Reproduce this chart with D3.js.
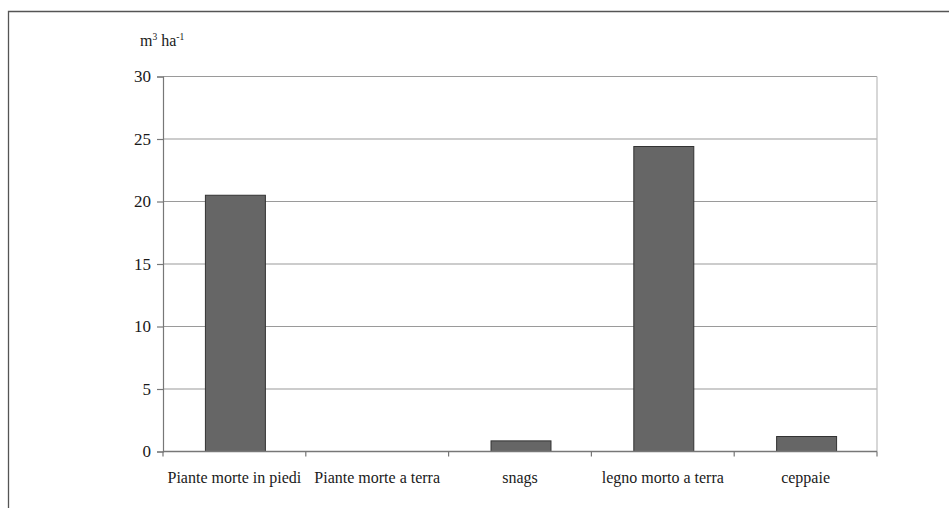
<!DOCTYPE html>
<html>
<head>
<meta charset="utf-8">
<script src="https://cdn.jsdelivr.net/npm/d3@7"></script>
<style>
  html, body { margin: 0; padding: 0; background: #fff; }
  svg { display: block; }
</style>
</head>
<body>
<script>
// Dead wood volume by component (m³ ha⁻¹)
const categories = ["Piante morte in piedi", "Piante morte a terra", "snags", "legno morto a terra", "ceppaie"];
const volumes = [20.5, 0, 0.85, 24.4, 1.2];
const yTicks = [0, 5, 10, 15, 20, 25, 30];

const W = 949, H = 508;
const margin = { left: 163, right: 72, top: 76.5, bottom: 56.5 };
const plotW = W - margin.left - margin.right;
const plotH = H - margin.top - margin.bottom;
const serif = '"Liberation Serif"';
const ink = "#1a1a1a";

const svg = d3.select("body").append("svg").attr("width", W).attr("height", H);

// outer frame, open at the right and bottom edges
svg.append("path")
  .attr("d", `M8.5,${H} V11.5 H${W}`)
  .attr("fill", "none").attr("stroke", "#555").attr("stroke-width", 1.3);

const g = svg.append("g").attr("transform", `translate(${margin.left},${margin.top})`);

const x = d3.scaleBand().domain(categories).range([0, plotW]).padding(0);
const y = d3.scaleLinear().domain([0, 30]).range([plotH, 0]);

// horizontal gridlines
g.selectAll("line.grid").data(yTicks.filter(d => d > 0)).join("line")
  .attr("class", "grid")
  .attr("x1", 0).attr("x2", plotW)
  .attr("y1", d => y(d)).attr("y2", d => y(d))
  .attr("stroke", "#9a9a9a").attr("stroke-width", 1.2);

// right edge of plot area
g.append("line")
  .attr("x1", plotW).attr("x2", plotW).attr("y1", 0).attr("y2", plotH)
  .attr("stroke", "#bdbdbd").attr("stroke-width", 1.2);

// bars
const barFrac = 0.42;
g.selectAll("rect.bar").data(categories.map((c, i) => ({ c, v: volumes[i] })).filter(d => d.v > 0)).join("rect")
  .attr("class", "bar")
  .attr("x", d => x(d.c) + x.bandwidth() * (1 - barFrac) / 2 + 1)
  .attr("width", x.bandwidth() * barFrac)
  .attr("y", d => y(d.v))
  .attr("height", d => y(0) - y(d.v))
  .attr("fill", "#666666")
  .attr("stroke", "#333").attr("stroke-width", 1);

// y axis
const yAxis = d3.axisLeft(y).tickValues(yTicks).tickSize(6).tickPadding(6).tickFormat(d3.format("d"));
const ya = g.append("g").call(yAxis);
ya.select(".domain").attr("stroke", "#777").attr("stroke-width", 1.2);
ya.selectAll(".tick line").attr("stroke", "#777").attr("stroke-width", 1.2);
ya.selectAll(".tick text")
  .style("font-family", serif).style("font-size", "17px").attr("fill", ink);

// x axis with tick marks at category boundaries
const xa = g.append("g").attr("transform", `translate(0,${plotH})`);
xa.append("line").attr("x1", 0).attr("x2", plotW).attr("stroke", "#777").attr("stroke-width", 1.4);
const bounds = categories.map(c => x(c)).concat([plotW]);
xa.selectAll("line.tk").data(bounds).join("line")
  .attr("class", "tk")
  .attr("x1", d => d).attr("x2", d => d).attr("y1", 0).attr("y2", 5)
  .attr("stroke", "#777").attr("stroke-width", 1.2);
xa.selectAll("text").data(categories).join("text")
  .attr("x", d => x(d) + x.bandwidth() / 2)
  .attr("y", 31)
  .attr("text-anchor", "middle")
  .attr("fill", ink)
  .style("font-family", serif).style("font-size", "16px")
  .text(d => d);

// unit label
const unit = svg.append("text").attr("x", 140).attr("y", 46).attr("fill", ink)
  .style("font-family", serif).style("font-size", "16px");
unit.append("tspan").text("m");
unit.append("tspan").style("font-size", "9.5px").attr("dy", -6).text("3");
unit.append("tspan").attr("dy", 6).text(" ha");
unit.append("tspan").style("font-size", "9.5px").attr("dy", -6).text("-1");
</script>
</body>
</html>
